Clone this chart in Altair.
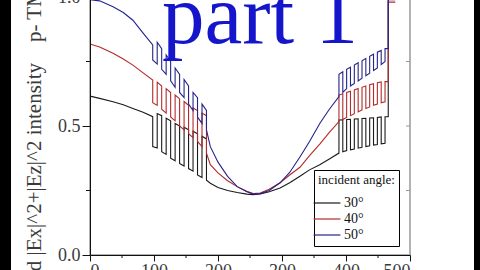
import altair as alt
import pandas as pd

series_names = ["30°", "40°", "50°"]
series_colors = ["#1a1a1a", "#b32a2a", "#23238c"]

# smooth start (x in nm-like units)
start_x = [0, 15, 36, 52, 67, 83]
start_30 = [0.616, 0.607, 0.594, 0.582, 0.568, 0.553]
start_40 = [0.818, 0.806, 0.782, 0.760, 0.736, 0.706]
start_50 = [0.990, 0.985, 0.962, 0.940, 0.910, 0.860]

# left oscillation region: edge positions, upper and lower levels
left_edges = [98, 105, 112, 119, 126, 133, 140, 147, 154, 161, 168, 175, 182]
left_hi_30 = [0.536, 0.548, 0.540, 0.530, 0.520, 0.510, 0.500, 0.495, 0.485, 0.480, 0.470, 0.460, 0.450]
left_lo_30 = [0.420, 0.415, 0.400, 0.390, 0.375, 0.365, 0.355, 0.345, 0.335, 0.325, 0.310, 0.300, 0.290]
left_hi_40 = [0.678, 0.670, 0.655, 0.645, 0.630, 0.620, 0.605, 0.595, 0.580, 0.570, 0.560, 0.550, 0.540]
left_lo_40 = [0.590, 0.580, 0.565, 0.550, 0.535, 0.520, 0.500, 0.485, 0.470, 0.455, 0.440, 0.420, 0.395]
left_hi_50 = [0.814, 0.825, 0.800, 0.775, 0.750, 0.725, 0.700, 0.680, 0.655, 0.630, 0.610, 0.585, 0.560]
left_lo_50 = [0.756, 0.740, 0.720, 0.700, 0.675, 0.650, 0.630, 0.610, 0.585, 0.560, 0.535, 0.510, 0.485]

# smooth middle part
mid_x = [188, 200, 215, 230, 245, 255, 266, 280, 297, 312, 328, 343, 359, 374]
mid_30 = [0.278, 0.262, 0.250, 0.242, 0.236, 0.234, 0.237, 0.245, 0.260, 0.280, 0.305, 0.330, 0.350, 0.372]
mid_40 = [0.350, 0.318, 0.288, 0.265, 0.247, 0.238, 0.240, 0.255, 0.280, 0.310, 0.340, 0.385, 0.430, 0.475]
mid_50 = [0.420, 0.360, 0.305, 0.265, 0.245, 0.236, 0.238, 0.250, 0.280, 0.320, 0.380, 0.440, 0.510, 0.565]

# right oscillation region
right_edges = [389, 395, 401, 407, 413, 419, 425, 431, 437, 443, 449, 455, 461]
right_lo_30 = [0.395, 0.400, 0.405, 0.408, 0.411, 0.414, 0.417, 0.420, 0.423, 0.426, 0.428, 0.431, 0.433]
right_hi_30 = [0.523, 0.524, 0.525, 0.526, 0.527, 0.528, 0.529, 0.530, 0.531, 0.532, 0.533, 0.535, 0.536]
right_lo_40 = [0.517, 0.525, 0.533, 0.540, 0.548, 0.555, 0.562, 0.568, 0.574, 0.580, 0.585, 0.590, 0.594]
right_hi_40 = [0.620, 0.625, 0.630, 0.635, 0.640, 0.645, 0.650, 0.655, 0.660, 0.664, 0.668, 0.671, 0.672]
right_lo_50 = [0.614, 0.630, 0.645, 0.655, 0.665, 0.675, 0.685, 0.695, 0.705, 0.715, 0.725, 0.738, 0.750]
right_hi_50 = [0.700, 0.710, 0.720, 0.728, 0.736, 0.745, 0.753, 0.762, 0.770, 0.778, 0.786, 0.793, 0.800]

# tail (jump at the end)
tail_x = [466, 466, 477]
tail_30 = [0.536, 1.000, 1.000]
tail_40 = [0.672, 0.980, 0.980]
tail_50 = [0.800, 0.990, 0.990]

y_major = [0.0, 0.5, 1.0]
y_minor = [0.25, 0.75]
x_major = [0, 100, 200, 300, 400, 500]
x_minor = [50, 150, 250, 350, 450]

series_data = {
    "30°": (start_30, left_hi_30, left_lo_30, mid_30, right_lo_30, right_hi_30, tail_30),
    "40°": (start_40, left_hi_40, left_lo_40, mid_40, right_lo_40, right_hi_40, tail_40),
    "50°": (start_50, left_hi_50, left_lo_50, mid_50, right_lo_50, right_hi_50, tail_50),
}

rows = []
for name, (st, lhi, llo, md, rlo, rhi, tl) in series_data.items():
    pts = list(zip(start_x, st))
    for i, e in enumerate(left_edges):
        if i % 2 == 0:
            pts += [(e, lhi[i]), (e, llo[i])]
        else:
            pts += [(e, llo[i]), (e, lhi[i])]
    pts += list(zip(mid_x, md))
    for i, e in enumerate(right_edges):
        if i % 2 == 0:
            pts += [(e, rlo[i]), (e, rhi[i])]
        else:
            pts += [(e, rhi[i]), (e, rlo[i])]
    pts += list(zip(tail_x, tl))
    for k, (x, y) in enumerate(pts):
        rows.append({"series": name, "x": x, "y": y, "k": k})
df = pd.DataFrame(rows)

W, H = 320, 258
SERIF = "Liberation Serif"
TXT = "#3a3a3a"

lines = alt.Chart(df).mark_line(strokeWidth=1.1, clip=True).encode(
    x=alt.X("x:Q", scale=alt.Scale(domain=[0, 500], nice=False),
            axis=alt.Axis(values=x_major, title=None, grid=False, tickSize=6,
                          labelFont=SERIF, labelFontSize=18, labelColor=TXT,
                          domainColor="#111", tickColor="#111", labelPadding=1,
                          zindex=1)),
    y=alt.Y("y:Q", scale=alt.Scale(domain=[0, 1], nice=False),
            axis=alt.Axis(values=y_major, format=".1f", title=None, grid=False,
                          tickSize=8, labelFont=SERIF, labelFontSize=18,
                          labelColor=TXT, domainColor="#111", tickColor="#111",
                          labelPadding=2, zindex=1)),
    color=alt.Color("series:N", scale=alt.Scale(domain=series_names, range=series_colors),
                    legend=alt.Legend(title="incident angle:", orient="none",
                                      legendX=224, legendY=173, strokeColor="#000",
                                      fillColor="white", padding=4,
                                      titleFont=SERIF, titleFontSize=13,
                                      titleFontWeight="normal", titleColor="#111",
                                      labelFont=SERIF, labelFontSize=14, labelColor="#111",
                                      symbolType="M-1.6,0L1.6,0", symbolSize=280,
                                      symbolStrokeWidth=1.2, symbolFillColor="transparent",
                                      rowPadding=0, labelOffset=8, titlePadding=7,
                                      zindex=1)),
    order="k:Q",
)

ymin_df = pd.DataFrame({"y": y_minor})
ymin = alt.Chart(ymin_df).mark_rule(color="#111", strokeWidth=1).encode(
    y="y:Q", x=alt.value(-4), x2=alt.value(0))
yright_df = pd.DataFrame({"y": y_minor + [0.5]})
yright = alt.Chart(yright_df).mark_rule(color="#999", strokeWidth=1).encode(
    y="y:Q", x=alt.value(W - 4), x2=alt.value(W))
xmin_df = pd.DataFrame({"x": x_minor})
xmin = alt.Chart(xmin_df).mark_rule(color="#111", strokeWidth=1).encode(
    x="x:Q", y=alt.value(H), y2=alt.value(H + 3))

part_df = pd.DataFrame({"t": ["part 1"]})
part = alt.Chart(part_df).mark_text(font=SERIF, fontSize=85, color="#1515cc",
                                    align="left", baseline="alphabetic").encode(
    text="t:N", x=alt.value(72), y=alt.value(46))

t1_df = pd.DataFrame({"t": ["Normalized |Ex|^2+|Ez|^2 intensity"]})
t1 = alt.Chart(t1_df).mark_text(font=SERIF, fontSize=21, color=TXT, angle=270,
                                align="right", baseline="middle").encode(
    text="t:N", x=alt.value(-55), y=alt.value(66))
t2_df = pd.DataFrame({"t": ["p- TM polarized"]})
t2 = alt.Chart(t2_df).mark_text(font=SERIF, fontSize=21, color=TXT, angle=270,
                                align="left", baseline="middle").encode(
    text="t:N", x=alt.value(-55), y=alt.value(45))

strip_df = pd.DataFrame({"a": [0]})
left_strip = alt.Chart(strip_df).mark_rect(color="black").encode(
    x=alt.value(-92), x2=alt.value(-79), y=alt.value(-10), y2=alt.value(290))
right_strip = alt.Chart(strip_df).mark_rect(color="black").encode(
    x=alt.value(384), x2=alt.value(400), y=alt.value(-10), y2=alt.value(290))

chart = alt.layer(
    ymin, yright, xmin, lines, part, t1, t2, left_strip, right_strip
).properties(
    width=W, height=H,
    autosize=alt.AutoSizeParams(type="none"),
    padding={"left": 90, "top": -3, "right": 70, "bottom": 15},
    background="white",
).configure_view(stroke="#999", strokeWidth=1.5)

chart.save("out.html", embed_options={"renderer": "svg", "actions": False})
